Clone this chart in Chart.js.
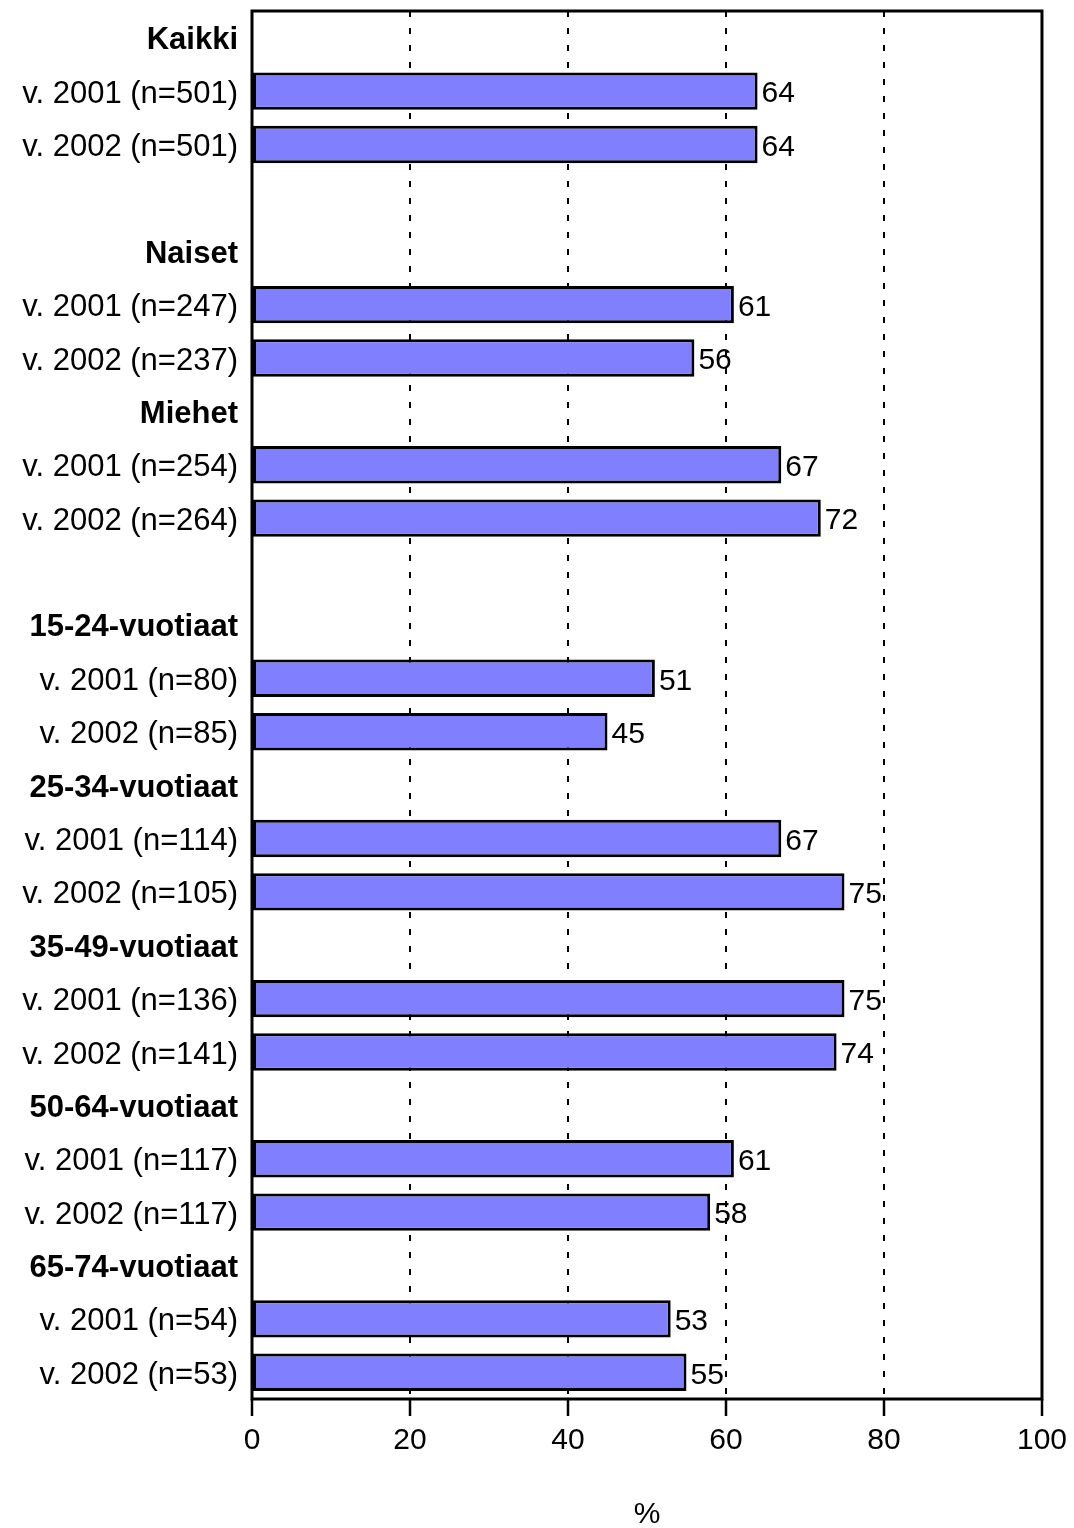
<!DOCTYPE html>
<html>
<head>
<meta charset="utf-8">
<script src="https://cdn.jsdelivr.net/npm/chart.js@4/dist/chart.umd.min.js"></script>
<style>
  html, body { margin: 0; padding: 0; background: #fff; }
</style>
</head>
<body>
<canvas id="chart" width="1074" height="1528"></canvas>
<script>
// rows from top to bottom; headers have no bar
const labels = [
  'Kaikki', 'v. 2001 (n=501)', 'v. 2002 (n=501)', '',
  'Naiset', 'v. 2001 (n=247)', 'v. 2002 (n=237)',
  'Miehet', 'v. 2001 (n=254)', 'v. 2002 (n=264)', '',
  '15-24-vuotiaat', 'v. 2001 (n=80)', 'v. 2002 (n=85)',
  '25-34-vuotiaat', 'v. 2001 (n=114)', 'v. 2002 (n=105)',
  '35-49-vuotiaat', 'v. 2001 (n=136)', 'v. 2002 (n=141)',
  '50-64-vuotiaat', 'v. 2001 (n=117)', 'v. 2002 (n=117)',
  '65-74-vuotiaat', 'v. 2001 (n=54)', 'v. 2002 (n=53)'
];
const headers = ['Kaikki', 'Naiset', 'Miehet', '15-24-vuotiaat', '25-34-vuotiaat',
  '35-49-vuotiaat', '50-64-vuotiaat', '65-74-vuotiaat'];
const values = [
  null, 64, 64, null,
  null, 61, 56,
  null, 67, 72, null,
  null, 51, 45,
  null, 67, 75,
  null, 75, 74,
  null, 61, 58,
  null, 53, 55
];
const xMin = 0;
const xMax = 100;
const xStep = 20;
const axisTitle = '%';

const FONT = '"Liberation Sans", Arial, sans-serif';
Chart.defaults.font.family = FONT;
Chart.defaults.color = '#000';

// frame round the plot and the numbers after the bars
const boxAndValues = {
  id: 'boxAndValues',
  afterDatasetsDraw(chart) {
    const { ctx, chartArea: a } = chart;
    const meta = chart.getDatasetMeta(0);
    ctx.save();
    ctx.font = '30px ' + FONT;
    ctx.fillStyle = '#000';
    ctx.textAlign = 'left';
    ctx.textBaseline = 'middle';
    meta.data.forEach((bar, i) => {
      if (values[i] == null) return;
      ctx.fillText(String(values[i]), bar.x + 4, bar.y + 3);
    });
    ctx.lineWidth = 3;
    ctx.strokeStyle = '#000';
    ctx.strokeRect(a.left, a.top, a.right - a.left, a.bottom - a.top);
    ctx.restore();
  }
};

new Chart(document.getElementById('chart'), {
  type: 'bar',
  data: {
    labels: labels,
    datasets: [{
      data: values,
      backgroundColor: '#8080ff',
      borderColor: '#000',
      borderWidth: 3,
      borderSkipped: false,
      categoryPercentage: 1,
      barPercentage: 0.7
    }]
  },
  options: {
    indexAxis: 'y',
    responsive: false,
    animation: false,
    devicePixelRatio: 1,
    layout: { padding: { top: 11, right: 30, left: 0, bottom: 0 } },
    plugins: {
      legend: { display: false },
      tooltip: { enabled: false }
    },
    scales: {
      y: {
        grid: { display: false, drawTicks: false, tickLength: 0 },
        border: { display: false },
        ticks: {
          autoSkip: false,
          padding: 14,
          labelOffset: 3,
          font: (c) => ({
            size: 31,
            weight: headers.includes(labels[c.index]) ? 'bold' : 'normal'
          })
        },
        afterFit: (s) => {
          s.width = 252;
          s.paddingTop = 0;
          s.paddingBottom = 0;
        }
      },
      x: {
        min: xMin,
        max: xMax,
        grid: {
          color: '#000',
          lineWidth: 2,
          tickLength: 17,
          tickWidth: 2.5,
          tickColor: '#000',
          tickBorderDash: []
        },
        border: { display: false, dash: [6, 11] },
        ticks: {
          stepSize: xStep,
          padding: 7,
          font: { size: 30 }
        },
        title: {
          display: true,
          text: axisTitle,
          font: { size: 30, lineHeight: 0.9 },
          padding: 0
        },
        afterFit: (s) => { s.height = 129; }
      }
    }
  },
  plugins: [boxAndValues]
});
</script>
</body>
</html>
